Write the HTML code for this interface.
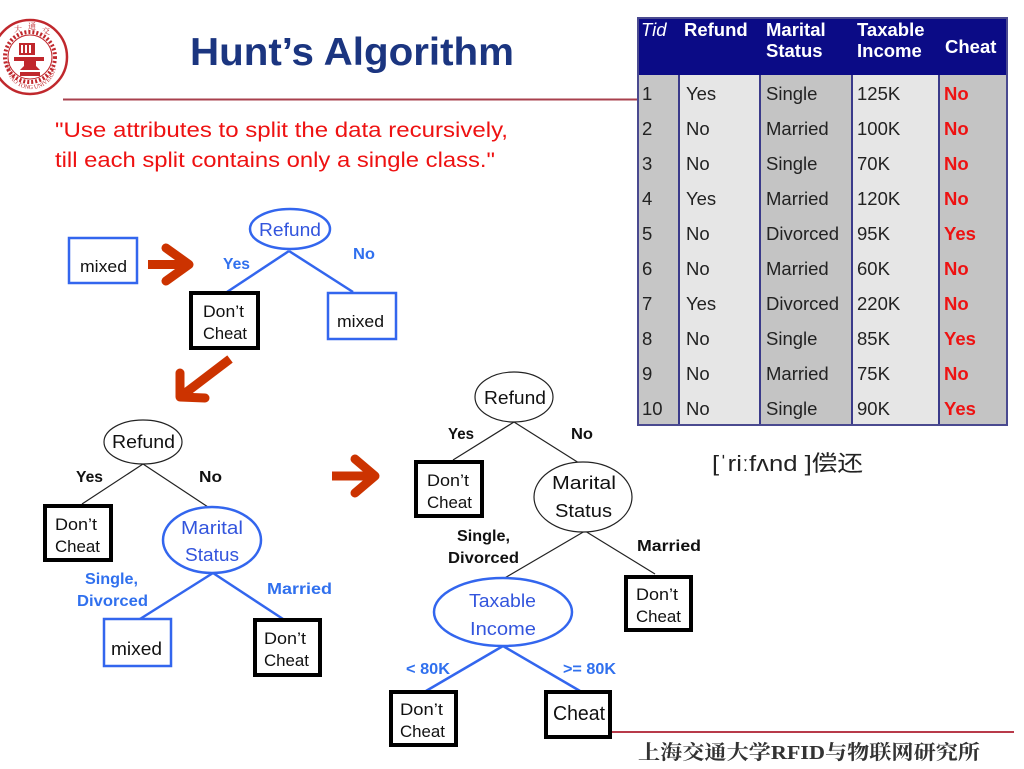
<!DOCTYPE html>
<html><head><meta charset="utf-8"><style>
html,body{margin:0;padding:0;background:#fff;}
svg{display:block;}
text{font-family:"Liberation Sans","Noto Sans CJK SC",sans-serif;}
text.serif{font-family:"Liberation Serif","Noto Serif CJK SC",serif;}
</style></head><body>
<svg width="1024" height="769" viewBox="0 0 1024 769" xmlns="http://www.w3.org/2000/svg">
<rect width="1024" height="769" fill="#fff"/>

<!-- Logo -->
<g>
<circle cx="30" cy="57" r="37" fill="#fff" stroke="#c0282d" stroke-width="2.5"/>
<circle cx="30" cy="57" r="25" fill="none" stroke="#c0282d" stroke-width="4" stroke-dasharray="2 2"/>
<circle cx="30" cy="57" r="22" fill="#fff" stroke="#c0282d" stroke-width="1"/>
<rect x="19" y="43" width="16" height="12" fill="#c0282d"/>
<rect x="21" y="45" width="2" height="8" fill="#fff"/><rect x="25" y="45" width="2" height="8" fill="#fff"/><rect x="29" y="45" width="2" height="8" fill="#fff"/>
<path d="M14 57 L44 57 L44 61 L36 61 L36 66 L40 70 L20 70 L24 66 L24 61 L14 61 Z" fill="#c0282d"/>
<rect x="20" y="72" width="20" height="4" fill="#c0282d"/>
<path id="lp" d="M6 62 A25 25 0 0 0 56 66" fill="none"/>
<text class="serif" font-size="6" fill="#c0282d"><textPath href="#lp">HAI JIAO TONG UNIVERSITY</textPath></text>
<text class="serif" x="14" y="32" font-size="8" fill="#c0282d">大</text>
<text class="serif" x="28" y="29" font-size="8" fill="#c0282d">通</text>
<text class="serif" x="42" y="34" font-size="8" fill="#c0282d">交</text>
</g>

<!-- Title -->
<text x="190" y="65" font-size="39" font-weight="bold" fill="#1b3580" textLength="324" lengthAdjust="spacingAndGlyphs">Hunt’s Algorithm</text>
<line x1="63" y1="99.5" x2="638" y2="99.5" stroke="#a8404e" stroke-width="2"/>

<!-- Quote -->
<text x="55" y="137" font-size="21" fill="#ee1111" textLength="453" lengthAdjust="spacingAndGlyphs">"Use attributes to split the data recursively,</text>
<text x="55" y="167" font-size="21" fill="#ee1111" textLength="440" lengthAdjust="spacingAndGlyphs">till  each split contains only a single class."</text>

<!-- Table -->
<g>
<rect x="638" y="18" width="369" height="57" fill="#0b0b86"/>
<rect x="638" y="75" width="41" height="350" fill="#c6c6c6"/>
<rect x="679" y="75" width="81" height="350" fill="#e6e6e6"/>
<rect x="760" y="75" width="92" height="350" fill="#c4c4c4"/>
<rect x="852" y="75" width="87" height="350" fill="#e6e6e6"/>
<rect x="939" y="75" width="68" height="350" fill="#c4c4c4"/>
<g stroke="#3a3a8a" stroke-width="2">
<line x1="679" y1="75" x2="679" y2="425"/>
<line x1="760" y1="75" x2="760" y2="425"/>
<line x1="852" y1="75" x2="852" y2="425"/>
<line x1="939" y1="75" x2="939" y2="425"/>
</g>
<rect x="638" y="18" width="369" height="407" fill="none" stroke="#4a4a90" stroke-width="2"/>
<g fill="#fff" font-size="18.5" font-weight="bold">
<text x="641" y="36" font-weight="normal" font-style="italic">Tid</text>
<text x="684" y="36">Refund</text>
<text x="766" y="36">Marital</text>
<text x="766" y="57">Status</text>
<text x="857" y="36">Taxable</text>
<text x="857" y="57">Income</text>
<text x="945" y="53">Cheat</text>
</g>
<g font-size="18.5" fill="#222">
<text x="642" y="100">1</text><text x="686" y="100">Yes</text><text x="766" y="100">Single</text><text x="857" y="100">125K</text>
<text x="642" y="135">2</text><text x="686" y="135">No</text><text x="766" y="135">Married</text><text x="857" y="135">100K</text>
<text x="642" y="170">3</text><text x="686" y="170">No</text><text x="766" y="170">Single</text><text x="857" y="170">70K</text>
<text x="642" y="205">4</text><text x="686" y="205">Yes</text><text x="766" y="205">Married</text><text x="857" y="205">120K</text>
<text x="642" y="240">5</text><text x="686" y="240">No</text><text x="766" y="240">Divorced</text><text x="857" y="240">95K</text>
<text x="642" y="275">6</text><text x="686" y="275">No</text><text x="766" y="275">Married</text><text x="857" y="275">60K</text>
<text x="642" y="310">7</text><text x="686" y="310">Yes</text><text x="766" y="310">Divorced</text><text x="857" y="310">220K</text>
<text x="642" y="345">8</text><text x="686" y="345">No</text><text x="766" y="345">Single</text><text x="857" y="345">85K</text>
<text x="642" y="380">9</text><text x="686" y="380">No</text><text x="766" y="380">Married</text><text x="857" y="380">75K</text>
<text x="642" y="415">10</text><text x="686" y="415">No</text><text x="766" y="415">Single</text><text x="857" y="415">90K</text>
</g>
<g font-size="18.5" fill="#ee1111" font-weight="bold">
<text x="944" y="100">No</text><text x="944" y="135">No</text><text x="944" y="170">No</text><text x="944" y="205">No</text>
<text x="944" y="240">Yes</text><text x="944" y="275">No</text><text x="944" y="310">No</text><text x="944" y="345">Yes</text>
<text x="944" y="380">No</text><text x="944" y="415">Yes</text>
</g>
</g>

<text x="712" y="471" font-size="22" fill="#222" textLength="151" lengthAdjust="spacingAndGlyphs">[ˈriːfʌnd ]偿还</text>

<!-- Red arrows -->
<g stroke="#cc3300" fill="none" stroke-width="9" stroke-linejoin="round">
<line x1="148" y1="264.5" x2="186" y2="264.5"/>
<polyline points="166,248 189,264.5 166,281" stroke-linecap="round"/>
<line x1="332" y1="476" x2="372" y2="476"/>
<polyline points="355,459 375,476 355,493" stroke-linecap="round"/>
<line x1="230" y1="359" x2="184" y2="394"/>
<polyline points="180,373 180,397 205,398" stroke-linecap="round"/>
</g>

<!-- Tree 1 -->
<g>
<rect x="69" y="238" width="68" height="45" fill="#fff" stroke="#3366ee" stroke-width="2.5"/>
<text x="80" y="272" font-size="17" fill="#111" textLength="47" lengthAdjust="spacingAndGlyphs">mixed</text>
<line x1="289" y1="251" x2="227" y2="292" stroke="#3366ee" stroke-width="2.5"/>
<line x1="289" y1="251" x2="353" y2="292" stroke="#3366ee" stroke-width="2.5"/>
<ellipse cx="290" cy="229" rx="40" ry="20" fill="#fff" stroke="#3366ee" stroke-width="2.5"/>
<text x="259" y="236" font-size="18" fill="#3355dd" textLength="62" lengthAdjust="spacingAndGlyphs">Refund</text>
<text x="223" y="269" font-size="16" font-weight="bold" fill="#3070ee" textLength="27" lengthAdjust="spacingAndGlyphs">Yes</text>
<text x="353" y="259" font-size="16" font-weight="bold" fill="#3070ee" textLength="22" lengthAdjust="spacingAndGlyphs">No</text>
<rect x="191" y="293" width="67" height="55" fill="#fff" stroke="#000" stroke-width="4"/>
<text x="203" y="317" font-size="17" fill="#111" textLength="41" lengthAdjust="spacingAndGlyphs">Don’t</text>
<text x="203" y="339" font-size="17" fill="#111" textLength="44" lengthAdjust="spacingAndGlyphs">Cheat</text>
<rect x="328" y="293" width="68" height="46" fill="#fff" stroke="#3366ee" stroke-width="2.5"/>
<text x="337" y="327" font-size="17" fill="#111" textLength="47" lengthAdjust="spacingAndGlyphs">mixed</text>
</g>

<!-- Tree 2 -->
<g>
<line x1="143" y1="464" x2="82" y2="504" stroke="#222" stroke-width="1.2"/>
<line x1="143" y1="464" x2="208" y2="507" stroke="#222" stroke-width="1.2"/>
<ellipse cx="143" cy="442" rx="39" ry="22" fill="#fff" stroke="#222" stroke-width="1.2"/>
<text x="112" y="448" font-size="18" fill="#111" textLength="63" lengthAdjust="spacingAndGlyphs">Refund</text>
<text x="76" y="482" font-size="16" font-weight="bold" fill="#111" textLength="27" lengthAdjust="spacingAndGlyphs">Yes</text>
<text x="199" y="482" font-size="16" font-weight="bold" fill="#111" textLength="23" lengthAdjust="spacingAndGlyphs">No</text>
<rect x="45" y="506" width="66" height="54" fill="#fff" stroke="#000" stroke-width="4"/>
<text x="55" y="530" font-size="17" fill="#111" textLength="42" lengthAdjust="spacingAndGlyphs">Don’t</text>
<text x="55" y="552" font-size="17" fill="#111" textLength="45" lengthAdjust="spacingAndGlyphs">Cheat</text>
<line x1="213" y1="573" x2="140" y2="619" stroke="#3366ee" stroke-width="2.5"/>
<line x1="213" y1="573" x2="283" y2="619" stroke="#3366ee" stroke-width="2.5"/>
<ellipse cx="212" cy="540" rx="49" ry="33" fill="#fff" stroke="#3366ee" stroke-width="2.5"/>
<text x="181" y="534" font-size="18" fill="#3355dd" textLength="62" lengthAdjust="spacingAndGlyphs">Marital</text>
<text x="185" y="561" font-size="18" fill="#3355dd" textLength="54" lengthAdjust="spacingAndGlyphs">Status</text>
<text x="85" y="584" font-size="16" font-weight="bold" fill="#3070ee" textLength="53" lengthAdjust="spacingAndGlyphs">Single,</text>
<text x="77" y="606" font-size="16" font-weight="bold" fill="#3070ee" textLength="71" lengthAdjust="spacingAndGlyphs">Divorced</text>
<text x="267" y="594" font-size="16" font-weight="bold" fill="#3070ee" textLength="65" lengthAdjust="spacingAndGlyphs">Married</text>
<rect x="104" y="619" width="67" height="47" fill="#fff" stroke="#3366ee" stroke-width="2.5"/>
<text x="111" y="655" font-size="18" fill="#111" textLength="51" lengthAdjust="spacingAndGlyphs">mixed</text>
<rect x="255" y="620" width="65" height="55" fill="#fff" stroke="#000" stroke-width="4"/>
<text x="264" y="644" font-size="17" fill="#111" textLength="42" lengthAdjust="spacingAndGlyphs">Don’t</text>
<text x="264" y="666" font-size="17" fill="#111" textLength="45" lengthAdjust="spacingAndGlyphs">Cheat</text>
</g>

<!-- Tree 3 -->
<g>
<line x1="514" y1="422" x2="453" y2="460" stroke="#222" stroke-width="1.2"/>
<line x1="514" y1="422" x2="579" y2="463" stroke="#222" stroke-width="1.2"/>
<ellipse cx="514" cy="397" rx="39" ry="25" fill="#fff" stroke="#222" stroke-width="1.2"/>
<text x="484" y="404" font-size="18" fill="#111" textLength="62" lengthAdjust="spacingAndGlyphs">Refund</text>
<text x="448" y="439" font-size="16" font-weight="bold" fill="#111" textLength="26" lengthAdjust="spacingAndGlyphs">Yes</text>
<text x="571" y="439" font-size="16" font-weight="bold" fill="#111" textLength="22" lengthAdjust="spacingAndGlyphs">No</text>
<rect x="416" y="462" width="66" height="54" fill="#fff" stroke="#000" stroke-width="4"/>
<text x="427" y="486" font-size="17" fill="#111" textLength="42" lengthAdjust="spacingAndGlyphs">Don’t</text>
<text x="427" y="508" font-size="17" fill="#111" textLength="45" lengthAdjust="spacingAndGlyphs">Cheat</text>
<line x1="585" y1="531" x2="503" y2="579" stroke="#222" stroke-width="1.2"/>
<line x1="585" y1="531" x2="655" y2="574" stroke="#222" stroke-width="1.2"/>
<ellipse cx="583" cy="497" rx="49" ry="35" fill="#fff" stroke="#222" stroke-width="1.2"/>
<text x="552" y="489" font-size="18" fill="#111" textLength="64" lengthAdjust="spacingAndGlyphs">Marital</text>
<text x="555" y="517" font-size="18" fill="#111" textLength="57" lengthAdjust="spacingAndGlyphs">Status</text>
<text x="457" y="541" font-size="16" font-weight="bold" fill="#111" textLength="53" lengthAdjust="spacingAndGlyphs">Single,</text>
<text x="448" y="563" font-size="16" font-weight="bold" fill="#111" textLength="71" lengthAdjust="spacingAndGlyphs">Divorced</text>
<text x="637" y="551" font-size="16" font-weight="bold" fill="#111" textLength="64" lengthAdjust="spacingAndGlyphs">Married</text>
<rect x="626" y="577" width="65" height="53" fill="#fff" stroke="#000" stroke-width="4"/>
<text x="636" y="600" font-size="17" fill="#111" textLength="42" lengthAdjust="spacingAndGlyphs">Don’t</text>
<text x="636" y="622" font-size="17" fill="#111" textLength="45" lengthAdjust="spacingAndGlyphs">Cheat</text>
<line x1="503" y1="646" x2="426" y2="691" stroke="#3366ee" stroke-width="2.5"/>
<line x1="503" y1="646" x2="580" y2="691" stroke="#3366ee" stroke-width="2.5"/>
<ellipse cx="503" cy="612" rx="69" ry="34" fill="#fff" stroke="#3366ee" stroke-width="2.5"/>
<text x="469" y="607" font-size="18" fill="#3355dd" textLength="67" lengthAdjust="spacingAndGlyphs">Taxable</text>
<text x="470" y="635" font-size="18" fill="#3355dd" textLength="66" lengthAdjust="spacingAndGlyphs">Income</text>
<text x="406" y="674" font-size="16" font-weight="bold" fill="#3070ee" textLength="44" lengthAdjust="spacingAndGlyphs">&lt; 80K</text>
<text x="563" y="674" font-size="16" font-weight="bold" fill="#3070ee" textLength="53" lengthAdjust="spacingAndGlyphs">&gt;= 80K</text>
<rect x="391" y="692" width="65" height="53" fill="#fff" stroke="#000" stroke-width="4"/>
<text x="400" y="715" font-size="17" fill="#111" textLength="43" lengthAdjust="spacingAndGlyphs">Don’t</text>
<text x="400" y="737" font-size="17" fill="#111" textLength="45" lengthAdjust="spacingAndGlyphs">Cheat</text>
<rect x="546" y="692" width="64" height="45" fill="#fff" stroke="#000" stroke-width="4"/>
<text x="553" y="720" font-size="20" fill="#111" textLength="52" lengthAdjust="spacingAndGlyphs">Cheat</text>
</g>

<!-- Footer -->
<line x1="612" y1="732" x2="1014" y2="732" stroke="#b83a4a" stroke-width="2"/>
<text class="serif" x="638" y="759" font-size="20" font-weight="bold" fill="#333" textLength="342" lengthAdjust="spacingAndGlyphs">上海交通大学RFID与物联网研究所</text>
</svg>
</body></html>
